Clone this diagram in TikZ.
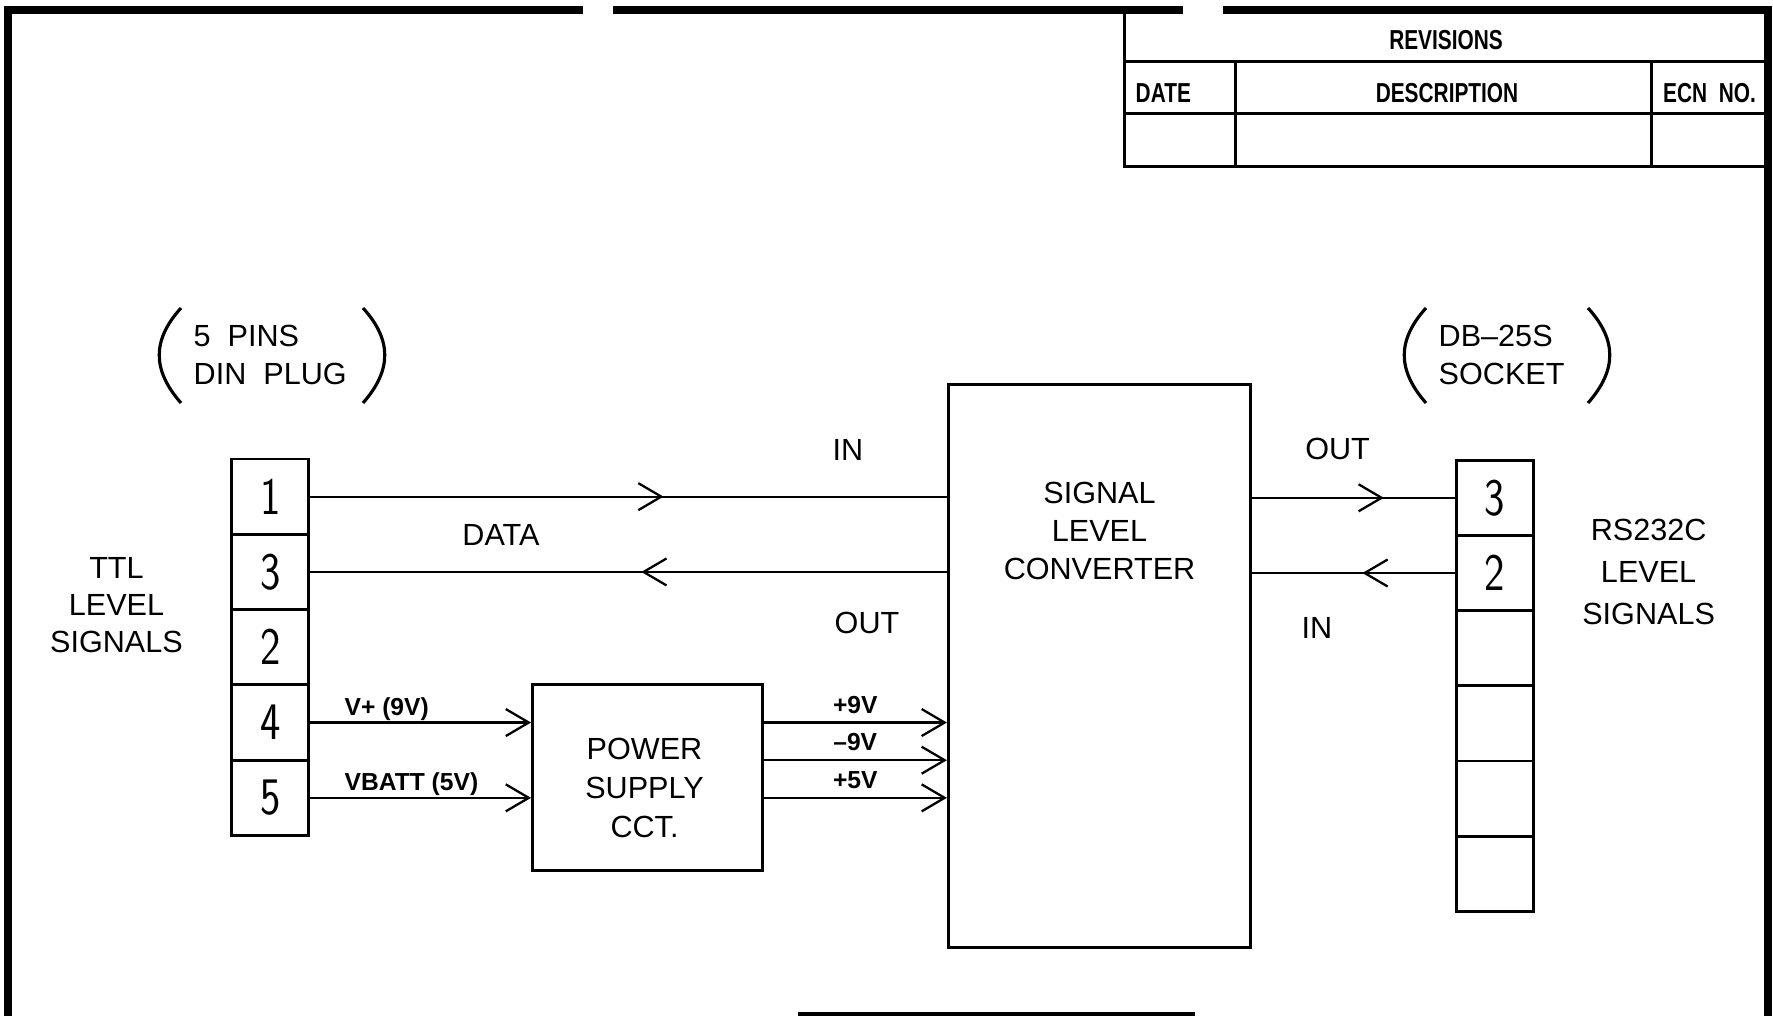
\documentclass[tikz,border=0pt]{standalone}
\usepackage{fontspec}
\setmainfont{Liberation Sans}
\newfontfamily\pinfont{lmsans17-regular.otf}[FakeStretch=0.82]
\newfontfamily\revfont{Liberation Sans}[FakeStretch=0.76]
\usetikzlibrary{arrows.meta, positioning, calc, decorations.markings}

\begin{document}
\begin{tikzpicture}[x=0.01cm, y=-0.01cm,
		wire/.style={line width=0.65pt},
		chev/.tip={Straight Barb[length=2.3mm,width=2.7mm]},
		flow/.style={wire, -chev},
		midarrow/.style={wire, postaction={decorate},
			decoration={markings, mark=at position #1 with {\arrow{chev}}}},
		pinbox/.style={draw, line width=0.8pt, minimum width=0.77cm, minimum height=0.753cm,
			inner sep=0pt, font=\pinfont\fontsize{15}{15}\selectfont},
		block/.style={draw, line width=0.85pt, inner sep=0pt},
		lbl/.style={font=\fontsize{8.7}{10.8}\selectfont, align=center, inner sep=0pt},
		tag/.style={font=\bfseries\fontsize{7}{8}\selectfont, inner sep=0pt},
		revtxt/.style={font=\revfont\bfseries\fontsize{7.8}{9}\selectfont, inner sep=0pt},
		paren/.style={line width=0.9pt},
		frame/.style={line width=2.3pt}]
	\useasboundingbox (0,0) rectangle (1773,1016);
	
	% sheet border
	\draw[frame] (8,1016) -- (8,10) -- (583,10);
	\draw[frame] (613,10) -- (1183,10);
	\draw[frame] (1223,10) -- (1768,10) -- (1768,1016);
	\draw[line width=1.2pt] (798,1014) -- (1195,1014);
	
	% revisions block
	\draw[line width=0.85pt] (1124,10) -- (1124,167) -- (1768,167);
	\draw[line width=0.85pt] (1124,62) -- (1768,62);
	\draw[line width=0.85pt] (1124,114) -- (1768,114);
	\draw[line width=0.85pt] (1235,62) -- (1235,167);
	\draw[line width=0.85pt] (1651,62) -- (1651,167);
	\node[revtxt] (revhd) at (1446,39.6) {REVISIONS};
	\node[revtxt, anchor=west] (revdate) at (1135,92.7) {DATE};
	\node[revtxt] (revdesc) at (1447,92.7) {DESCRIPTION};
	\node[revtxt] (revecn) at (1709.5,92.7) {ECN\ \ NO.};
	
	% din plug pins
	\node foreach \lbl [count=\i] in {1,3,2,4,5}
	[pinbox] (din\lbl) at (270.25,{459+75.3*(\i-0.5)}) {\lbl};
	
	% db-25s socket pins
	\node foreach \lbl [count=\i] in {3,2,{},{},{},{}}
	[pinbox, minimum height=0.752cm] (db\i) at (1494.75,{460.2+75.2*(\i-0.5)}) {\lbl};
	
	\node[block, minimum width=3.02cm, minimum height=5.63cm] (conv) at (1099.5,666) {};
	\node[lbl] (convtxt) at (1099.5,531) {SIGNAL\\LEVEL\\CONVERTER};
	
	\node[block, minimum width=2.294cm, minimum height=1.856cm] (psu) at (647.3,777.8) {};
	\node[lbl, font=\fontsize{8.7}{11.1}\selectfont] (psutxt) at (644.5,788) {POWER\\SUPPLY\\CCT.};
	
	\node[lbl, align=left, anchor=west, font=\fontsize{8.7}{10.7}\selectfont] (dinname) at (193,355) {5\ \ PINS\\DIN\ \ PLUG};
	\draw[paren] (181,308) .. controls (152,340) and (152,370) .. (181,403);
	\draw[paren] (363,308) .. controls (392,340) and (392,370) .. (363,403);
	
	\node[lbl, align=left, anchor=west, font=\fontsize{8.7}{10.7}\selectfont] (dbname) at (1438,355) {DB--25S\\SOCKET};
	\draw[paren] (1426,308) .. controls (1397,340) and (1397,370) .. (1426,403);
	\draw[paren] (1588,308) .. controls (1617,340) and (1617,370) .. (1588,403);
	
	\node[lbl, font=\fontsize{8.7}{10.6}\selectfont] (ttl) at (116.5,605) {TTL\\LEVEL\\SIGNALS};
	\node[lbl, font=\fontsize{8.7}{12}\selectfont] (rslvl) at (1648.6,572) {RS232C\\LEVEL\\SIGNALS};
	
	% data lines
	\draw[midarrow=0.555] (din1.east) -- (din1.east -| conv.west);
	\draw[midarrow=0.48] (din3.east -| conv.west) -- (din3.east);
	\node[lbl] (datatxt) at (501,535) {DATA};
	\node[lbl] (inleft) at (848,450) {IN};
	\node[lbl] (outleft) at (867,623) {OUT};
	
	\draw[midarrow=0.65] (db1.west -| conv.east) -- (db1.west);
	\draw[midarrow=0.456] (db2.west) -- (db2.west -| conv.east);
	\node[lbl] (outright) at (1337.6,449) {OUT};
	\node[lbl] (inright) at (1317,627.5) {IN};
	
	% supply lines
	\draw[flow] (din4.east) -- (din4.east -| psu.west) node[tag, pos=0.151, anchor=base west, yshift=2pt] {V+ (9V)};
	\draw[flow] (din5.east) -- (din5.east -| psu.west) node[tag, pos=0.151, anchor=base west, yshift=2pt] {VBATT (5V)};
	
	\coordinate (m45) at ($(din4)!.5!(din5)$);
	\draw[flow] (din4.east -| psu.east) -- (din4.east -| conv.west) node[tag, midway, above=2.3pt] {+9V};
	\draw[flow] (m45 -| psu.east) -- (m45 -| conv.west) node[tag, midway, above=2.3pt] {--9V};
	\draw[flow] (din5.east -| psu.east) -- (din5.east -| conv.west) node[tag, midway, above=2.3pt] {+5V};
\end{tikzpicture}
\end{document}
